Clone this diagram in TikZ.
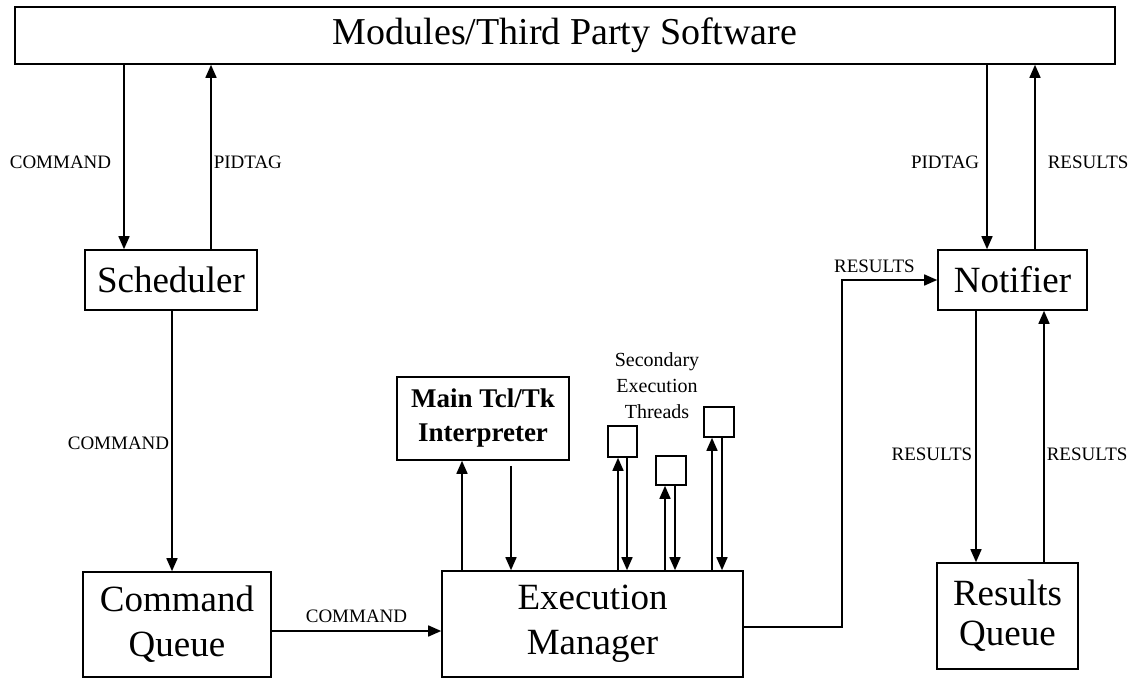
\documentclass[tikz,border=0pt]{standalone}
\usepackage{fontspec}
\setmainfont{Liberation Serif}
\usetikzlibrary{arrows.meta}

\tikzset{
  box/.style={draw=black, line width=1.6pt, fill=white, inner sep=0pt, align=center},
  bigtext/.style={font=\fontsize{37}{45}\selectfont},
  arr/.style={draw=black, line width=1.6pt, -{Triangle[length=13pt,width=11pt]}},
  lbl/.style={font=\fontsize{19}{22}\selectfont, inner sep=0pt},
}

\begin{document}
\begin{tikzpicture}[x=1pt, y=-1pt]
\useasboundingbox (0,0) rectangle (1135,679);

% boxes
\node[box, minimum width=1100, minimum height=57, font=\fontsize{38}{44}\selectfont] (top) at (565,35.5) {Modules/Third Party Software};
\node[box, bigtext, minimum width=172, minimum height=60] (sched) at (171,280) {Scheduler};
\node[box, bigtext, minimum width=188, minimum height=105] (cmdq) at (177,624.5) {Command\\Queue};
\node[box, bigtext, minimum width=301, minimum height=106] (exec) at (592.5,624) {Execution\\Manager};
\node[box, font=\fontsize{27}{34}\selectfont\bfseries, minimum width=172, minimum height=83] (tcl) at (483,418.5) {Main Tcl/Tk\\Interpreter};
\node[box, minimum width=29, minimum height=31] (t1) at (622.5,441.5) {};
\node[box, minimum width=30, minimum height=29] (t2) at (671,470.5) {};
\node[box, minimum width=30, minimum height=30] (t3) at (719,422) {};
\node[box, bigtext, minimum width=149, minimum height=60] (notif) at (1012.5,280) {Notifier};
\node[box, font=\fontsize{37}{40}\selectfont, minimum width=141, minimum height=106] (resq) at (1007.5,616) {Results\\Queue};

\node[font=\fontsize{20}{26}\selectfont, align=center, inner sep=0pt] (sec) at (657,386) {Secondary\\Execution\\Threads};

% connector columns
\coordinate (xa) at (124,0);
\coordinate (xb) at (211,0);
\coordinate (xc) at (172,0);
\coordinate (xd) at (987,0);
\coordinate (xe) at (1035,0);
\coordinate (xf) at (976,0);
\coordinate (xg) at (1044,0);
\coordinate (xh) at (462,0);
\coordinate (xi) at (511,0);
\coordinate (xj) at (618,0);
\coordinate (xk) at (627,0);
\coordinate (xl) at (665,0);
\coordinate (xm) at (675,0);
\coordinate (xn) at (712,0);
\coordinate (xo) at (722,0);
\coordinate (cq) at (0,631);
\coordinate (bend) at (842,627);

% scheduler side
\draw[arr] (xa |- top.south) -- node[lbl, pos=0.53, anchor=east, xshift=-12pt] {COMMAND} (xa |- sched.north);
\draw[arr] (xb |- sched.north) -- node[lbl, pos=0.47, anchor=west, xshift=2pt] {PIDTAG} (xb |- top.south);
\draw[arr] (xc |- sched.south) -- node[lbl, pos=0.51, anchor=east, xshift=-2pt] {COMMAND} (xc |- cmdq.north);
\draw[arr] (cmdq.east |- cq) -- node[lbl, midway, above=8pt] {COMMAND} (exec.west |- cq);

% interpreter and threads
\draw[arr] (xh |- exec.north) -- (xh |- tcl.south);
\draw[arr, shorten <=5pt] (xi |- tcl.south) -- (xi |- exec.north);
\draw[arr] (xj |- exec.north) -- (xj |- t1.south);
\draw[arr] (xk |- t1.south) -- (xk |- exec.north);
\draw[arr] (xl |- exec.north) -- (xl |- t2.south);
\draw[arr] (xm |- t2.south) -- (xm |- exec.north);
\draw[arr] (xn |- exec.north) -- (xn |- t3.south);
\draw[arr] (xo |- t3.south) -- (xo |- exec.north);

% results to notifier
\draw[arr] (exec.east |- bend) -- (bend) |- node[lbl, pos=0.67, above=7pt] {RESULTS} (notif.west);

% notifier side
\draw[arr] (xd |- top.south) -- node[lbl, pos=0.53, anchor=east, xshift=-7pt] {PIDTAG} (xd |- notif.north);
\draw[arr] (xe |- notif.north) -- node[lbl, pos=0.47, anchor=west, xshift=12pt] {RESULTS} (xe |- top.south);
\draw[arr] (xf |- notif.south) -- node[lbl, pos=0.57, anchor=east, xshift=-3pt] {RESULTS} (xf |- resq.north);
\draw[arr] (xg |- resq.north) -- node[lbl, pos=0.43, anchor=west, xshift=2pt] {RESULTS} (xg |- notif.south);

\end{tikzpicture}
\end{document}
